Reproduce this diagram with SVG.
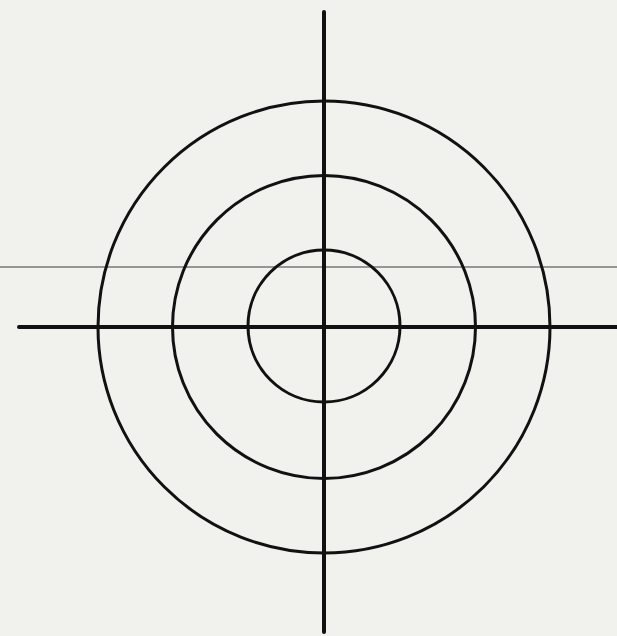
<svg xmlns="http://www.w3.org/2000/svg" width="617" height="636" viewBox="0 0 617 636">
<style>
.ring{fill:none;stroke:#111;stroke-width:3}
.axis{stroke:#111;stroke-width:4;stroke-linecap:round}
.guide{stroke:#777;stroke-width:1.5}
</style>
<rect width="617" height="636" fill="#f1f1ed"/>
<g id="guide"><line class="guide" x1="0" y1="267" x2="617" y2="267"/></g>
<g id="rings">
<circle id="outer" class="ring" cx="324" cy="327" r="226"/>
<circle id="middle" class="ring" cx="324" cy="327" r="151.5"/>
<circle id="inner" class="ring" cx="324" cy="326" r="76"/>
</g>
<g id="connectors">
<line class="axis" x1="324" y1="12" x2="324" y2="632"/>
<line class="axis" x1="19" y1="327" x2="617" y2="327"/>
</g>
</svg>
